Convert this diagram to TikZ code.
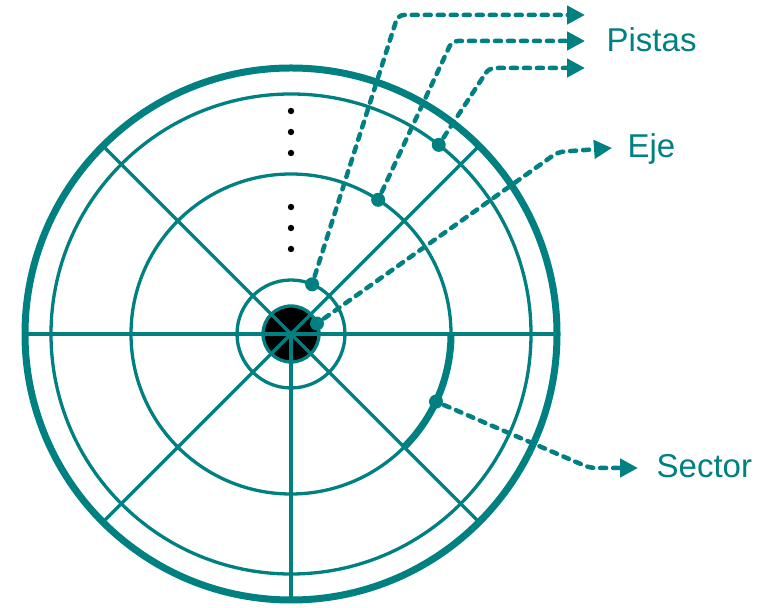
\documentclass[tikz,border=0pt]{standalone}
\usepackage{fontspec}
\setmainfont{Liberation Sans}
\usetikzlibrary{calc, positioning, arrows.meta}
\definecolor{diskteal}{RGB}{0,128,128}

\begin{document}
\begin{tikzpicture}[x=1pt, y=1pt, color=diskteal, line width=3.3pt,
        ptr/.style={line width=4.5pt, line cap=round, dash pattern=on 6pt off 7pt, rounded corners=6pt, -{Triangle[length=18pt, width=18pt]}},
        pdot/.style={circle, fill=diskteal, inner sep=0pt, minimum size=14pt},
        lbl/.style={text=diskteal, inner sep=0pt, anchor=base west, font=\fontsize{33}{40}\selectfont}]
        \useasboundingbox (0,0) rectangle (767,607);
        \coordinate (c) at (291,273);

        % disco
        \draw[fill=black] (c) circle (28);
        \draw (c) circle (54);
        \draw (c) circle (160);
        \draw (c) circle (240);
        \draw[line width=7pt] (c) circle (266);
        \draw (c) ++(-266,0) -- ++(532,0);
        \draw (c) -- ++(0,-266);
        \foreach \a in {45,135,225,315}
            \draw (c) -- ++(\a:266);
        \draw[line width=7pt] ($(c)+(0:160)$) arc[start angle=0, end angle=-45, radius=160];
        \foreach \y in {496,475,454,400,379,358}
            \fill[black] (291,\y) circle (3.2);

        % puntos
        \node[pdot] (p1) at ($(c)+(67:54)$) {};
        \node[pdot] (p2) at ($(c)+(57:160)$) {};
        \node[pdot] (p3) at ($(c)+(52:240)$) {};
        \node[pdot] (eje) at ($(c)+(22:28)$) {};
        \node[pdot] (sec) at ($(c)+(-25:160)$) {};

        \coordinate (t1) at (585,592);
        \coordinate (t2) at (585,566);
        \coordinate (t3) at (585,539);
        \coordinate (t4) at (612,459);
        \coordinate (t5) at (638,139);

        \node[lbl] (pistas) at (605,555) {Pistas};
        \node[lbl] (ejetxt) at (626,449) {Eje};
        \node[lbl] (sector) at (655,129) {Sector};

        \draw[ptr] (p1) -- (398,592) -- (t1);
        \draw[ptr] (p2) -- (452,566) -- (t2);
        \draw[ptr] (p3) -- (489,539) -- (t3);
        \draw[ptr] (eje) -- (558,455) -- (t4);
        \draw[ptr] (sec) -- (590,139) -- (t5);
    \end{tikzpicture}
\end{document}
